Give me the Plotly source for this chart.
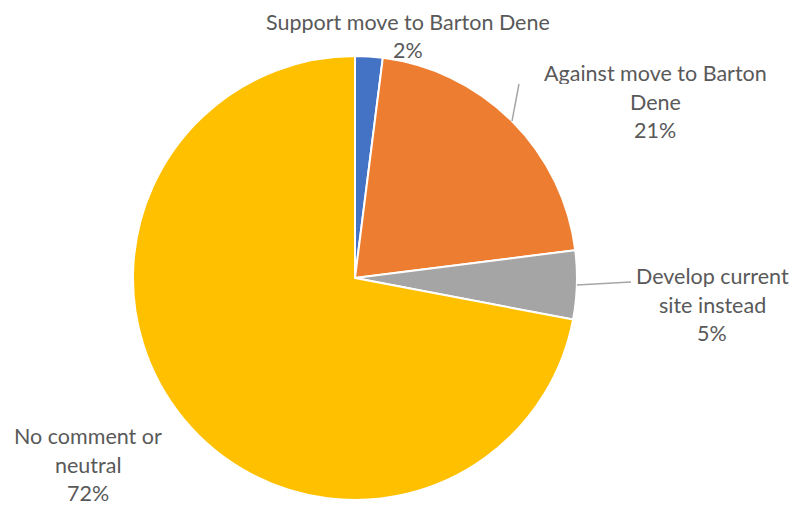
import math
import plotly.graph_objects as go

W, H = 795, 506

# Survey responses (share of comments, %)
categories = ["Support move to Barton Dene", "Against move to Barton Dene",
              "Develop current site instead", "No comment or neutral"]
values = [2, 21, 5, 72]
colors = ["#4472C4", "#ED7D31", "#A5A5A5", "#FFC000"]

# Label text broken into lines as shown beside each slice
label_lines = [
    ["Support move to Barton Dene"],
    ["Against move to Barton", "Dene"],
    ["Develop current", "site instead"],
    ["No comment or", "neutral"],
]
# Label block centres (px) of the first line
label_pos = [(408, 22), (655, 73), (712, 276), (88, 436)]
line_gap = 28.5
# Leader line endpoints (px) for labels that use one; None = no leader
leader_end = [None, (519, 84), (631, 282), None]

# Pie geometry in pixels
cx, cy, r = 355, 278, 222

fig = go.Figure(go.Pie(
    labels=categories,
    values=values,
    sort=False,
    direction="clockwise",
    rotation=0,
    marker=dict(colors=colors, line=dict(color="white", width=2)),
    textinfo="none",
    hoverinfo="label+percent",
    domain=dict(x=[(cx - r) / W, (cx + r) / W],
                y=[1 - (cy + r) / H, 1 - (cy - r) / H]),
    showlegend=False,
))

def px(x, y):
    return x / W, 1 - y / H

font = dict(family="Lato, 'Open Sans', sans-serif", size=21.5, color="#595959")
annotations = []
shapes = []
total = sum(values)
cum = 0
for i, v in enumerate(values):
    mid = (cum + v / 2) / total * 2 * math.pi
    cum += v
    lines = label_lines[i] + [f"{round(v / total * 100)}%"]
    lx, ly = label_pos[i]
    for k, t in enumerate(lines):
        xx, yy = px(lx, ly + k * line_gap)
        annotations.append(dict(x=xx, y=yy, xref="paper", yref="paper",
                                text=t, showarrow=False, font=font,
                                height=22, borderpad=0,
                                xanchor="center", yanchor="middle"))
    if leader_end[i] is not None:
        sx = cx + r * math.sin(mid)
        sy = cy - r * math.cos(mid)
        x0, y0 = px(sx, sy)
        x1, y1 = px(*leader_end[i])
        shapes.append(dict(type="line", xref="paper", yref="paper",
                           x0=x0, y0=y0, x1=x1, y1=y1,
                           line=dict(color="#A6A6A6", width=1.5)))

fig.update_layout(
    width=W, height=H,
    margin=dict(l=0, r=0, t=0, b=0),
    paper_bgcolor="white",
    plot_bgcolor="white",
    annotations=annotations,
    shapes=shapes,
)

fig.write_html("out.html")
